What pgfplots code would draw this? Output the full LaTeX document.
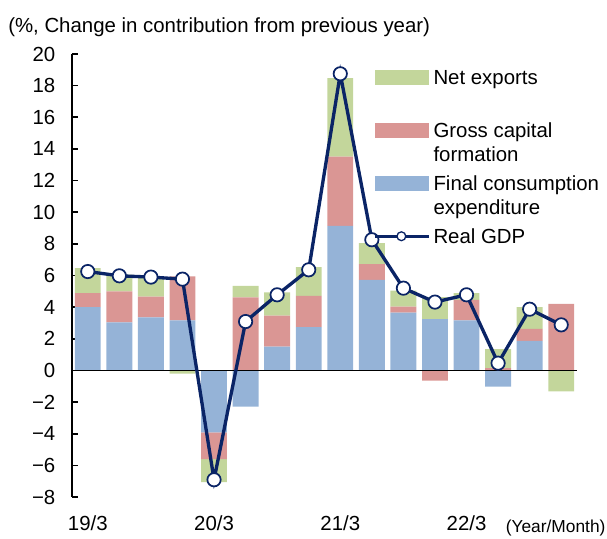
\documentclass[border=0pt]{standalone}
\usepackage{fontspec}
\setmainfont{Liberation Sans}
\usepackage{pgfplots}
\usepackage{pgfplotstable}
\pgfplotsset{compat=1.18}

\definecolor{cblue}{HTML}{95B3D7}
\definecolor{cred}{HTML}{DA9694}
\definecolor{cgreen}{HTML}{C3D69B}
\definecolor{cnavy}{HTML}{0A2466}
\newcommand\lf{\fontsize{15.3}{18}\selectfont}

% positive parts of each quarter (final consumption, gross capital, net exports)
\pgfplotstableread{
i  b     r     n
0  4.00  0.88  1.59
1  3.03  1.96  1.06
2  3.35  1.32  1.27
3  3.16  2.78  0
4  0     0     0
5  0     4.61  0.74
6  1.51  1.96  1.46
7  2.73  1.98  1.82
8  9.14  4.38  4.95
9  5.73  0.99  1.33
10 3.66  0.38  1.01
11 3.24  0     1.40
12 3.16  1.30  0.42
13 0     0.15  1.20
14 1.87  0.76  1.37
15 0     4.21  0
}\pos

% negative parts
\pgfplotstableread{
i  b      r      n
0  0      0      0
1  0      0      0
2  0      0      0
3  0      0      -0.20
4  -3.92  -1.69  -1.45
5  -2.28  0      0
6  0      0      0
7  0      0      0
8  0      0      0
9  0      0      0
10 0      0      0
11 0      -0.64  0
12 0      0      0
13 -1.02  0      0
14 0      0      0
15 0      0      -1.33
}\neg

% real GDP
\pgfplotstableread{
i  g
0  6.25
1  5.98
2  5.90
3  5.77
4  -6.91
5  3.09
6  4.78
7  6.36
8  18.75
9  8.26
10 5.20
11 4.32
12 4.78
13 0.46
14 3.87
15 2.88
}\gdp

\pgfplotsset{
  base/.style={
    width=378.75pt, height=332.25pt, scale only axis,
    xmin=-0.5, xmax=15.5, ymin=-8, ymax=20,
  },
  bars/.style={base, ybar stacked, bar width=0.82},
}

\begin{document}
\begin{tikzpicture}
% axis, ticks and the positive stacks
\begin{axis}[
  bars,
  axis y line*=left, axis x line*=bottom,
  x axis line style={draw=none},
  xtick={0,4,8,12}, xticklabels={19/3,20/3,21/3,22/3},
  xtick style={draw=none},
  ytick={-8,-6,...,20},
  yticklabels={−8,−6,−4,−2,0,2,4,6,8,10,12,14,16,18,20},
  tick align=inside, major tick length=4.5pt,
  y axis line style={line width=1.2pt, black},
  ytick style={line width=1.2pt, black},
  tick label style={font=\lf},
  yticklabel style={xshift=-9pt},
  xticklabel style={yshift=-10.8pt},
]
\addplot[fill=cblue, draw=none] table[x=i, y=b] {\pos};
\addplot[fill=cred, draw=none] table[x=i, y=r] {\pos};
\addplot[fill=cgreen, draw=none] table[x=i, y=n] {\pos};
\end{axis}

% negative stacks
\begin{axis}[bars, hide axis]
\addplot[fill=cblue, draw=none] table[x=i, y=b] {\neg};
\addplot[fill=cred, draw=none] table[x=i, y=r] {\neg};
\addplot[fill=cgreen, draw=none] table[x=i, y=n] {\neg};
\end{axis}

% zero line, GDP line, legend and captions
\begin{axis}[
  base, hide axis, clip=false,
  legend cell align=left,
  legend style={
    draw=none, fill=none, at={(0.596,0.9695)}, anchor=north west,
    inner xsep=0pt, inner ysep=0pt, row sep=3.75pt, column sep=2pt,
    cells={anchor=west}, font=\lf,
    nodes={inner sep=0pt, text depth=, align=left},
  },
]
\draw[black, line width=1.2pt] (axis cs:-0.5,0) -- (axis cs:15.5,0);
\addlegendimage{legend image code/.code={
  \fill[cgreen, draw=none] (0pt,5.3pt) rectangle (41pt,16.5pt);}}
\addlegendentry{\strut Net exports\\\strut}
\addlegendimage{legend image code/.code={
  \fill[cred, draw=none] (0pt,5.3pt) rectangle (41pt,16.5pt);}}
\addlegendentry{\strut Gross capital\\\strut formation}
\addlegendimage{legend image code/.code={
  \fill[cblue, draw=none] (0pt,5.3pt) rectangle (41pt,16.5pt);}}
\addlegendentry{\strut Final consumption\\\strut expenditure}
\addlegendimage{legend image code/.code={
  \draw[cnavy, line width=2.2pt] (0pt,1.9pt) -- (41pt,1.9pt);
  \draw[cnavy, line width=1pt, fill=white] (20pt,1.9pt) circle (3.3pt);}}
\addlegendentry{\strut Real GDP}
\addplot[cnavy, line width=2.5pt, mark=*, mark size=5pt,
  mark options={fill=white, draw=cnavy, line width=1.3pt}, forget plot]
  table[x=i, y=g] {\gdp};
\node[anchor=base west, inner sep=0pt, font=\lf] at (rel axis cs:0,1)
  [xshift=-48pt, yshift=15.75pt] {(\%, Change in contribution from previous year)};
\node[anchor=base east, inner sep=0pt, font=\fontsize{13}{15}\selectfont] at (rel axis cs:1,0)
  [xshift=21.5pt, yshift=-27pt] {(Year/Month)};
\path (rel axis cs:0,0) ++(-54pt,-31.5pt);
\path (rel axis cs:1,1) ++(22.5pt,40.5pt);
\end{axis}
\end{tikzpicture}
\end{document}
